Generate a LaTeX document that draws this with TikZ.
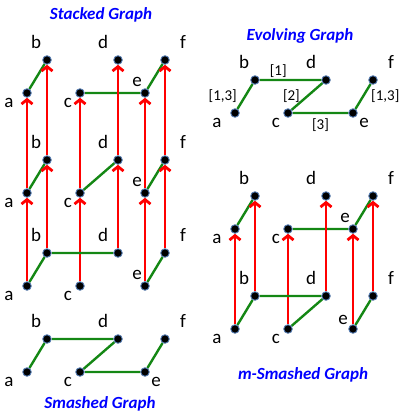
\documentclass[tikz,border=0pt]{standalone}
\usepackage{fontspec}
\setmainfont{Carlito}
\usetikzlibrary{arrows.meta,calc,positioning,backgrounds}

\begin{document}
\begin{tikzpicture}[x=1pt,y=-1pt,
  dot/.style={circle,inner sep=0pt,minimum size=8.5pt,outer sep=0.5pt,fill=black,
    draw={rgb,255:red,80;green,120;blue,175},line width=0.9pt},
  lbl/.style={inner sep=0pt,font=\fontsize{19}{19}\selectfont},
  elbl/.style={inner sep=1pt,font=\fontsize{15}{15}\selectfont},
  title/.style={font=\fontsize{17}{19}\selectfont\bfseries\itshape,text=blue},
  tie/.style={draw={rgb,255:red,20;green,135;blue,20},line width=2.4pt},
  hop/.style={draw=red,line width=2.8pt,-{Straight Barb[length=4.5pt,width=11pt]}}]

  \useasboundingbox (0,0) rectangle (405,420);

        % vertices: name / shift / base row / place of the e label
        \foreach \g/\dx/\y/\ex/\ey in {st1/0/286/-8/-11, st2/0/193/-8/-11, st3/0/93/-8/-11,
            sm/0/372/11/10, ev/208/113/11/10, ms1/208/329/-10/-9, ms2/208/229/-8/-11}{
          \foreach \v/\x/\up/\lx/\ly in {a/27/0/-18/10, b/47/1/-11/-18, c/80/0/-12/10,
              d/118/1/-15/-18, e/145/0/\ex/\ey, f/165/1/18/-18}{
            \node[dot] (\g\v) at (\x+\dx,\y-33*\up) {};
            \node[lbl] (\g\v-l) at ([shift={(\lx,\ly)}]\g\v) {\v};
          }
        }

        \node[title] (t-st) at (101,15) {Stacked Graph};
        \node[title] (t-ev) at (300,36) {Evolving Graph};
        \node[title] (t-sm) at (100,404) {Smashed Graph};
        \node[title] (t-ms) at (303,375) {m-Smashed Graph};

        \begin{scope}[on background layer]
          \draw[tie] (st3a) -- (st3b) (st3c) -- (st3e) -- (st3f);
          \draw[tie] (ms2a) -- (ms2b) (ms2c) -- (ms2e) -- (ms2f);
          \draw[tie] (st2a) -- (st2b) (st2c) -- (st2d) (st2e) -- (st2f);

          \foreach \v in {a,b,c,d,e,f}{
            \draw[hop] (st1\v) -- (st2\v);
            \draw[hop] (st2\v) -- (st3\v);
            \draw[hop] (ms1\v) -- (ms2\v);
          }

          \draw[tie] (st1a) -- (st1b) -- (st1d) (st1e) -- (st1f);
          \draw[tie] (ms1a) -- (ms1b) -- (ms1d) -- (ms1c) (ms1e) -- (ms1f);
          \draw[tie] (sma) -- (smb) -- (smd) -- (smc) -- (sme) -- (smf);

          \draw[tie] (eva) -- node[elbl,left=6pt] (l-ab) {[1,3]} (evb)
            -- node[elbl,above,pos=0.3] (l-bd) {[1]} (evd)
            -- node[elbl,left=5pt] (l-dc) {[2]} (evc)
            -- node[elbl,below=3pt] (l-ce) {[3]} (eve)
            -- node[elbl,right=6pt] (l-ef) {[1,3]} (evf);
        \end{scope}
      \end{tikzpicture}
\end{document}
